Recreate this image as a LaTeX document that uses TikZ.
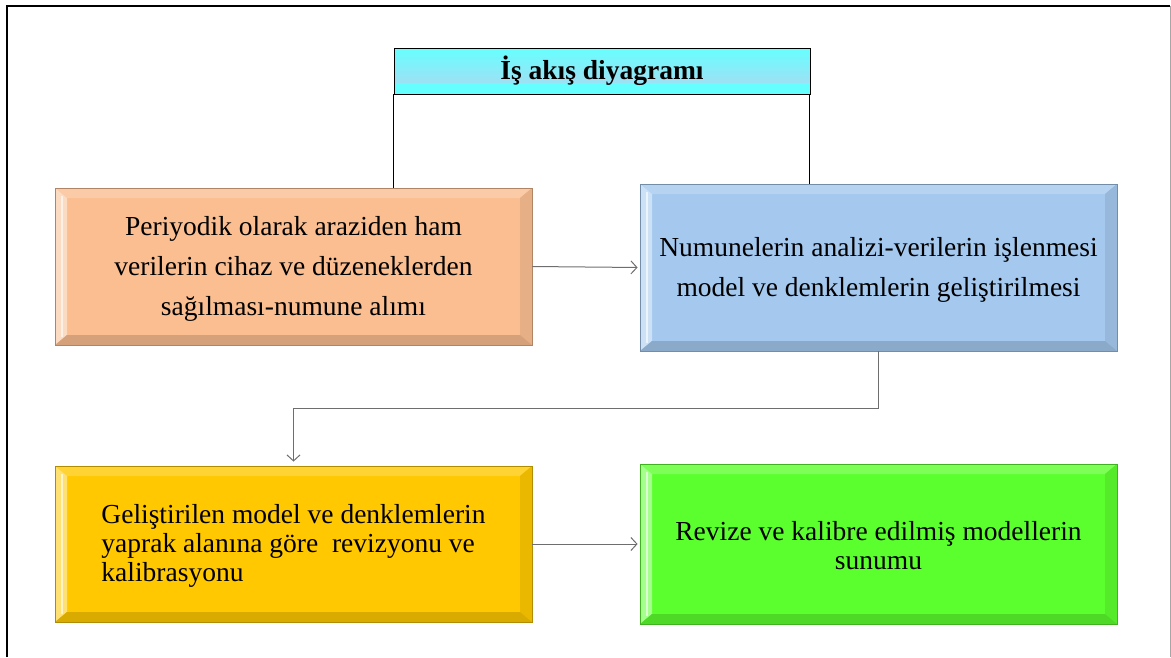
\documentclass[tikz,border=0pt]{standalone}
\usepackage{fontspec}
\setmainfont{Liberation Serif}
\usetikzlibrary{arrows.meta}
\definecolor{peach}{RGB}{250,190,145}
\definecolor{skyb}{RGB}{164,200,238}
\definecolor{gold}{RGB}{255,200,0}
\definecolor{lime}{RGB}{92,255,46}
\definecolor{tcyan}{RGB}{102,255,255}
\definecolor{tblue}{RGB}{175,215,240}
\definecolor{arrgray}{RGB}{110,110,110}
\newcommand{\lowerby}[1]{\rule{0pt}{#1}}
\tikzset{
  bevelbox/.style={rectangle, inner sep=0pt, fill=#1, draw=#1!70!black, line width=0.8pt, align=center,
    minimum width=477pt,
    path picture={
      \coordinate (nw) at (path picture bounding box.north west);
      \coordinate (ne) at (path picture bounding box.north east);
      \coordinate (sw) at (path picture bounding box.south west);
      \coordinate (se) at (path picture bounding box.south east);
      \fill[#1!80!white] (nw) -- (ne) -- ([shift={(-12pt,-10pt)}]ne) -- ([shift={(12pt,-10pt)}]nw) -- cycle;
      \fill[#1!55!white] (nw) -- ([shift={(12pt,-10pt)}]nw) -- ([shift={(12pt,10pt)}]sw) -- (sw) -- cycle;
      \draw[white, opacity=0.6, line width=2pt] ([shift={(7pt,-8pt)}]nw) -- ([shift={(7pt,8pt)}]sw);
      \fill[#1!92!black] (ne) -- (se) -- ([shift={(-12pt,10pt)}]se) -- ([shift={(-12pt,-10pt)}]ne) -- cycle;
      \fill[#1!85!black] (sw) -- (se) -- ([shift={(-12pt,10pt)}]se) -- ([shift={(12pt,10pt)}]sw) -- cycle;
    }},
  widetext/.style={font=\fontsize{27.5}{40}\selectfont},
  tighttext/.style={font=\fontsize{27.5}{29}\selectfont},
  flow/.style={draw=arrgray, line width=1pt, -{Straight Barb[length=6pt,width=13pt,line width=1pt]}},
  link/.style={draw=black, line width=0.8pt},
}
\begin{document}
\begin{tikzpicture}[x=1pt,y=-1pt]
\useasboundingbox (0,0) rectangle (1171,657);
% frame
\draw[black, line width=1.5pt] (7,657) -- (7,6) -- (1170,6);
\draw[gray!70, line width=1pt] (1170,6) -- (1170,657);

% title
\node[rectangle, inner sep=0pt, minimum width=416pt, minimum height=46pt, fill=tcyan, draw=black, line width=0.8pt,
  font=\fontsize{27.5}{30}\selectfont\bfseries,
  path picture={\shade[top color=tcyan, bottom color=tblue] ([yshift=12pt]path picture bounding box.south west) rectangle (path picture bounding box.north east);}]
  (title) at (602,71) {İş akış diyagramı};

\node[bevelbox=peach, minimum height=157pt, widetext] (b1) at (293.5,266.5)
  {\lowerby{24.5pt}Periyodik olarak araziden ham\\verilerin cihaz ve düzeneklerden\\sağılması-numune alımı};
\node[bevelbox=skyb, minimum height=167pt, widetext] (b2) at (878.5,267.5)
  {\lowerby{24.5pt}Numunelerin analizi-verilerin işlenmesi\\model ve denklemlerin geliştirilmesi};
\node[bevelbox=gold, minimum height=156pt, tighttext, align=left] (b3) at (293.5,544)
  {\lowerby{23.5pt}Geliştirilen model ve denklemlerin\\yaprak alanına göre\ \ revizyonu ve\\kalibrasyonu};
\node[bevelbox=lime, minimum height=160pt, tighttext] (b4) at (878.5,544)
  {\lowerby{23pt}Revize ve kalibre edilmiş modellerin\\sunumu};

% connectors
\draw[link] (title.south west) -- (title.south west |- b1.north);
\draw[link] ([xshift=-1pt]title.south east) -- ([xshift=-1pt]title.south east |- b2.north);
\draw[flow, shorten >=2pt] (b1.east) -- (b2.west);
\draw[flow, shorten >=4pt] (b2.south) -- ++(0,57) -| (b3.north);
\draw[flow, shorten >=2pt] (b3.east) -- (b4.west);
\end{tikzpicture}
\end{document}
